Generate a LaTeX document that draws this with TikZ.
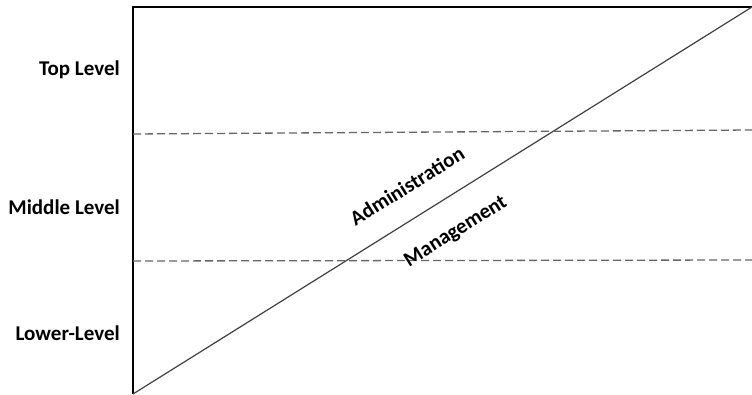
\documentclass[tikz,border=0pt]{standalone}
\usepackage{fontspec}
\setmainfont{Carlito}
\begin{document}
\begin{tikzpicture}[x=1pt, y=-1pt, every node/.style={font=\bfseries\fontsize{21}{24}\selectfont,inner sep=0pt}]
  \useasboundingbox (0,0) rectangle (752,395);
  \coordinate (ll) at (133,394);
  \coordinate (tl) at (133,7);
  \coordinate (tr) at (752,7);
  \coordinate (d1l) at (133,134);
  \coordinate (d1r) at (752,130);
  \coordinate (d2l) at (133,261);
  \coordinate (d2r) at (752,260);
  \node [anchor=east] (top) at (120,70) {Top Level};
  \node [anchor=east] (mid) at (120,207) {Middle Level};
  \node [anchor=east] (low) at (120,333) {Lower-Level};
  \draw [line width=2pt] (ll) -- (tl) -- (tr);
  \draw [line width=1.2pt,black!75] (ll) -- (tr);
  \draw [line width=1.3pt,black!60,dash pattern=on 8pt off 4pt] (d1l) -- (d1r);
  \draw [line width=1.3pt,black!60,dash pattern=on 8pt off 4pt] (d2l) -- (d2r);
  \node [rotate=32] (adm) at (407,186) {Administration};
  \node [rotate=32] (mgt) at (456,232) {Management};
\end{tikzpicture}
\end{document}
